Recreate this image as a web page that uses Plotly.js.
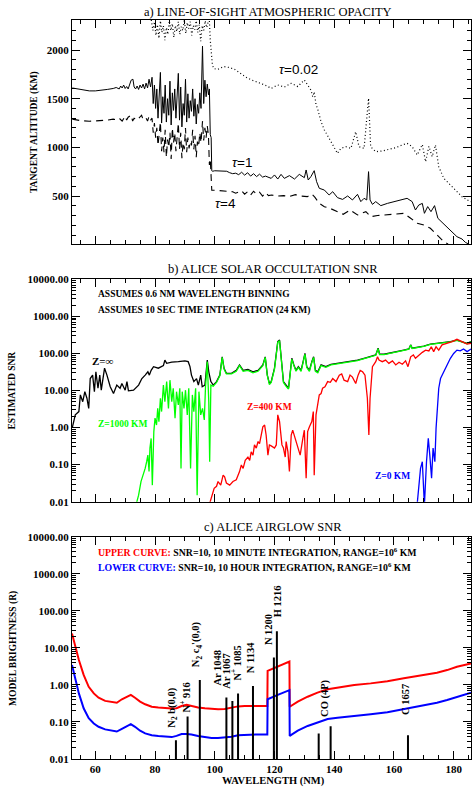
<!DOCTYPE html>
<html><head><meta charset="utf-8">
<script src="https://cdn.plot.ly/plotly-3.0.1.min.js"></script>
<style>html,body{margin:0;padding:0;background:#fff}#chart{width:472px;height:789px}</style>
</head><body><div id="chart"></div>
<script>
// ---------- Panel a: line-of-sight opacity (tangent altitude, km) ----------
const tau1Wl = [52.3,54,56,58,60,62,64,66,67,68,68.5,69,69.5,70,70.5,71,72,72.6,73,73.5,74,74.5,75,75.5,76,76.5,77,77.5,78,78.5,79,79.4,79.8,80.2,80.6,81,81.4,81.8,82.2,82.6,83,83.4,83.8,84.2,84.6,85,85.4,85.8,86.2,86.6,87,87.4,87.8,88.2,88.6,89,89.4,89.8,90.2,90.6,91,91.4,91.8,92.2,92.6,93,93.4,93.8,94.2,94.6,95,95.4,95.9,96.3,96.7,97.1,97.5,97.9,98.2,98.5,98.8,99,99.3,100,102,104,105,106,107,108,109,110,111,112,113,114,115,116,117,118.9,120,121.1,122.2,123.3,125,126.7,128.3,130,130.6,131.3,132.2,133.3,134.1,135,136.7,138.3,139.5,141.1,142.8,144.5,146.1,147.8,148.9,150,150.9,151.5,152,152.8,153.9,155.6,157.8,160,162.2,164.4,166.1,167.2,168.3,169.5,170.2,171.3,172.4,173.6,174.7,176.1,177.8,179.5,181.1,182.8,183.9,185.8];
const tau1Alt = [1610,1600,1585,1580,1580,1585,1595,1605,1615,1600,1630,1610,1640,1605,1625,1600,1690,1700,1620,1600,1630,1595,1640,1610,1650,1600,1660,1610,1700,1620,1720,1450,1640,1400,1600,1300,1560,1770,1250,1520,1350,1640,1260,1500,1330,1680,1230,1560,1380,1600,1300,1500,1760,1280,1620,1210,1450,1330,1700,1260,1550,1300,1480,1370,1600,1320,1500,1240,1440,1350,1560,1400,2040,1450,1690,1520,1650,1540,1600,1130,1100,760,755,760,760,755,740,730,735,720,745,715,740,705,730,700,725,695,705,682,717,675,723,682,710,675,723,689,768,665,700,761,648,580,562,511,545,484,466,501,460,518,443,477,460,751,460,415,443,402,425,443,460,477,443,357,408,425,323,392,340,402,272,230,186,135,83,59,25,-5];
const tau4Wl = [52.3,55,58,61,64,66,67,68,69,70,70.5,71,72,72.5,73,74,75,75.5,76,77,77.5,78,78.5,79,79.4,79.8,80.2,80.6,81,81.4,81.8,82.2,82.6,83,83.4,83.8,84.2,84.6,85,85.4,85.8,86.2,86.6,87,87.4,87.8,88.2,88.6,89,89.4,89.8,90.2,90.6,91,91.4,91.8,92.2,92.6,93,93.4,93.8,94.2,94.6,95,95.4,95.9,96.3,96.7,97.1,97.5,97.9,98.2,98.5,98.8,99,100,103,106,107,109,110,111,112,113,114,115,116,117,118,119,121,123,125,127,129,131,132.5,133.5,135,136.7,138.6,140.8,143,145.3,147.8,150.6,152.2,154.5,157.8,161.1,163.3,165.6,167.8,170,172.2,174.5,176.7,178,178.5];
const tau4Alt = [1290,1275,1268,1272,1280,1290,1285,1300,1270,1320,1280,1310,1330,1270,1300,1280,1310,1330,1285,1300,1270,1320,1280,1300,1150,1250,1100,1200,1020,1150,1260,960,1100,950,1180,900,1080,1000,1150,880,1200,1050,1150,960,1080,1250,980,1150,890,1050,980,1200,950,1100,990,1060,1020,1180,980,1120,900,1060,1010,1150,1050,1270,1070,1200,1100,1220,1120,820,880,620,560,560,550,545,530,555,520,545,510,550,520,540,500,535,505,511,500,505,495,515,500,494,520,490,425,391,374,340,313,357,306,340,289,300,306,315,323,272,220,203,169,100,32,10,-50];
const tau002Wl = [78,78.8,79.3,79.8,80.3,80.8,81.3,81.8,82.3,82.8,83.3,83.8,84.3,84.8,85.3,85.8,86.3,86.8,87.3,87.8,88.3,88.8,89.3,89.8,90.3,90.8,91.3,91.8,92.3,92.8,93.3,93.8,94.3,94.8,95.3,95.8,96.3,96.8,97.3,97.8,98.2,98.5,98.8,99.2,99.6,101,103,105,106.7,108.5,110.5,112.5,114.5,116,117.5,118.9,121.1,123.3,125.6,127.8,130,131.1,132.2,132.8,133.3,133.9,134.4,135.6,136.7,138.3,140,141.1,142.2,143.9,145.6,147.2,148.3,150,151.5,152.2,153.9,156.1,158.3,160.6,162.8,164.4,166.1,167.8,169.5,170.6,171.7,172.8,173.9,175,176.7,178.9,181.1,182.8,184.5,185.8];
const tau002Alt = [2450,2310,2200,2290,2150,2260,2120,2300,2180,2250,2100,2230,2160,2300,2200,2270,2130,2250,2190,2290,2160,2240,2200,2310,2170,2280,2220,2290,2150,2250,2210,2300,2180,2260,2090,2250,2200,2300,2230,2290,2300,2100,1950,1850,1810,1800,1830,1820,1800,1760,1720,1690,1670,1650,1630,1606,1641,1620,1658,1625,1692,1640,1589,1520,1570,1440,1401,1264,1179,1093,1007,938,990,1007,990,1161,1007,990,1504,1007,956,963,980,997,1025,1042,1007,922,1030,853,1010,905,1025,802,682,614,545,494,460,443];
const altTickVals = [500,1000,1500,2000];

// ---------- Panel b: solar occultation SNR ----------
const infWl = [52.3,53.3,54.5,55,55.8,56.5,57.2,57.8,58.3,59.1,59.7,60.2,60.9,61.5,62,63.1,63.9,65,66.1,67.2,68.3,68.9,70,70.6,71.1,72.8,74.5,75.6,76.7,77.6,78.1,78.7,79.5,81.1,82.8,83.3,83.9,85.6,87.8,90,91.1,91.7,92.2,93,93.9,94.5,95.3,95.8,96.7,97.5,98,98.7,99.5,100.6,101.7,102.5,103.1,103.9,105.6,107.2,108.3,109.5,111.1,112.8,114.5,116.1,116.9,117.6,118.3,118.9,120,121.1,121.7,122.2,123,123.9,124.7,125.3,125.8,126.5,127.2,128,128.9,129.7,130.2,130.8,131.7,132.5,133.1,133.7,134.5,135.6,137.2,138.9,141.1,143.3,145.6,147.8,150,152.2,153.9,154.7,155.2,156.7,158.9,161.1,163.3,165,165.6,166.1,167.8,170,172.2,174.5,176.7,178.9,181.1,182.8,184.5,185.8];
const infSnr = [1.0,2.2,2.7,7.6,5.0,9.3,6.2,3.3,21,26,9.3,32,11.5,26,10.2,40,26,12.6,8.3,14,11.5,15.5,10.2,17.4,9.8,10.2,14,21,26,32,26,35,44,40,47,66,54,58,60,63,60,44,26,17.4,21,14,26,12.6,14,66,32,17.4,14,17.4,26,81,40,29,29,35,49,35,37,32,35,49,81,26,15.5,17.4,40,209,229,74,17.4,14,11.5,32,74,49,35,44,35,66,100,44,35,60,81,35,32,49,44,51,54,58,63,66,74,85,91,138,95,95,105,112,123,132,170,138,145,158,178,186,195,209,229,209,186,209];
const z1000Wl = [73.6,74.5,75.3,76.1,76.7,77.2,77.6,78,78.3,78.7,79.1,79.6,80,80.5,80.9,81.3,81.8,82.2,82.8,83.3,83.9,84.5,85,85.6,86.1,86.7,87.2,87.8,88.3,88.7,89.1,89.7,90.2,90.8,91.3,91.9,92.5,93,93.6,94.1,94.7,95.3,95.9,96.5,96.9,97.5,98,98.3,98.7,99.5,100.6,101.7,102.5,103.1,103.9,105.6,107.2,108.3,109.5,111.1,112.8,114.5,116.1,116.9,117.6,118.3,118.9,120,121.1,121.7,122.2,123,123.9,124.7,125.3,125.8,126.5,127.2,128,128.9,129.7,130.2,130.8,131.7,132.5,133.1,133.7,134.5,135.6,137.2,138.9,141.1,143.3,145.6,147.8,150,152.2,153.9,154.7,155.2,156.7,158.9,161.1,163.3,165,165.6,166.1,167.8,170,172.2,174.5,176.7,178.9,181.1,182.8,184.5,185.8];
const z1000Snr = [0.008,0.015,0.035,0.052,0.079,0.12,0.18,0.065,0.28,0.51,0.028,0.78,1.8,1.17,3.3,1.45,6.2,2.7,14,5.0,17.4,3.3,19,5.0,11.5,1.8,9.3,4.1,11.5,0.079,9.3,3.3,10.2,2.2,11.5,0.079,7.6,2.7,11.5,0.015,9.3,2.2,3.3,1.6,12.6,60,5.0,0.12,14,13,16.5,25,78,38,28,28,33,47,33,35,30,33,47,78,25,14.5,16.5,38,200,220,70,16.5,13,11,30,70,47,33,42,33,63,95,42,33,57,78,33,30,47,42,49,52,56,61,64,72,83,89,135,93,93,103,110,121,130,168,136,143,156,176,184,193,206,226,206,184,206];
const z400Wl = [98.3,99.1,99.8,100.6,101.1,102,102.8,103.3,103.9,105,106.1,107.2,108.3,108.9,109.5,110.2,111.1,111.7,112.2,112.8,113.3,113.9,114.5,115,115.6,116.1,116.7,117.2,117.8,118.3,118.9,120,120.6,121.1,121.7,122.5,123,123.6,123.9,124.5,125,125.6,126.1,126.9,127.8,128.6,129.5,130,130.6,131.1,131.7,132.5,133,133.3,133.9,134.5,135,135.6,136.1,136.9,137.8,138.7,139.5,140.6,141.7,142.5,143.3,144.5,145.3,146.1,147.2,148,148.7,149.5,150.3,151.1,151.6,152,152.8,153.9,154.5,155,156.1,157.2,158.3,159.5,160.6,161.7,162.8,163.9,164.7,165.6,166.5,167.2,168.3,169.5,170.6,171.7,172.5,173.3,174.1,175,176.1,177.8,179.5,181.1,182.8,184.5,185.8];
const z400Snr = [0.009,0.015,0.023,0.026,0.035,0.028,0.052,0.047,0.032,0.028,0.035,0.039,0.065,0.098,0.079,0.13,0.16,0.13,0.22,0.18,0.34,0.28,0.42,0.37,0.69,1.05,1.17,0.63,0.18,0.34,0.32,0.28,0.34,2.2,1.45,0.34,0.28,0.16,0.42,0.22,0.065,0.63,0.85,0.51,0.28,0.18,0.51,0.85,0.043,0.78,1.05,1.45,2.7,0.052,2.2,5.0,7.6,8.3,11.5,12.6,17.4,16.6,21,17.4,26,28,19,17.4,26,23,15.5,26,35,32,26,6.2,0.63,6.2,44,60,81,66,60,66,54,63,49,58,51,63,44,81,91,74,91,107,123,117,151,112,151,123,170,186,209,240,209,178,186];
const z0Wl = [167.8,168.3,168.9,169.5,169.8,170.2,170.9,171.5,172,172.6,173.1,173.7,174.1,174.5,175,175.6,176.7,177.8,178.9,180,181.1,182.2,183.3,184.5,185.8];
const z0Snr = [0.009,0.023,0.079,0.12,0.052,0.008,0.12,0.51,0.18,0.043,0.28,0.12,0.95,3.3,11.5,21,32,49,74,100,123,117,132,112,132];

// ---------- Panel c: airglow model brightness (R) ----------
const upperWl = [52.2,53.3,54.5,56.1,57.8,59.5,61.1,63.3,65.6,67.2,68.9,70.6,71.9,73.3,75,76.7,78.9,81.1,83.3,85.6,87.2,88.9,90.6,92.2,94.4,96.7,98.9,101.1,103.3,105.6,107.8,110,112.2,114.4,117.6,117.7,121.1,125,125.1,127.8,131.1,134.4,137.8,141.1,146.7,152.2,157.8,163.3,167.8,172.2,174.4,177.8,181.1,185.8];
const upperR = [24.5,10.7,4.7,1.86,0.89,0.59,0.45,0.37,0.35,0.33,0.41,0.48,0.54,0.45,0.355,0.30,0.257,0.245,0.234,0.229,0.234,0.27,0.29,0.27,0.245,0.234,0.224,0.219,0.224,0.245,0.263,0.27,0.27,0.27,0.27,2.4,3.1,4.27,0.257,0.355,0.48,0.62,0.76,0.85,1.0,1.1,1.26,1.51,1.74,1.95,2.14,2.51,3.1,3.8];
const lowerWl = [52.2,53.3,54.5,56.1,57.8,59.5,61.1,63.3,65.6,67.2,68.9,70.6,71.9,73.3,75,76.7,78.9,81.1,83.3,85.6,87.2,88.9,90.6,92.2,94.4,96.7,98.9,101.1,103.3,105.6,107.8,110,112.2,114.4,117.6,117.7,121.1,125,125.1,127.8,131.1,134.4,137.8,141.1,146.7,152.2,157.8,163.3,167.8,172.2,174.4,177.8,181.1,185.8];
const lowerR = [3.47,1.35,0.59,0.234,0.126,0.091,0.074,0.063,0.058,0.055,0.065,0.078,0.087,0.074,0.058,0.049,0.044,0.042,0.040,0.039,0.042,0.047,0.047,0.046,0.042,0.039,0.037,0.037,0.038,0.040,0.044,0.045,0.046,0.046,0.046,0.41,0.54,0.72,0.042,0.058,0.078,0.098,0.12,0.13,0.148,0.162,0.182,0.219,0.257,0.30,0.33,0.39,0.48,0.62];
const lineWl = [87.0,90.9,95.0,103.9,105.9,107.8,112.8,119.8,120.8,134.8,138.8,164.7];
const lineR = [0.032,0.14,1.35,0.46,0.37,0.59,0.93,5.5,28,0.049,0.077,0.044];
const lineLabels = ["N<sub>2</sub> b(0,0)","N<sup>+</sup> 916","N<sub>2</sub> c<sub>4</sub>'(0,0)","Ar 1048","Ar 1067","N<sup>+</sup> 1085","N 1134","N 1200","H 1216","CO (4P)","C 1657"];
const labelWl = [86.0,90.0,94.0,101.0,104.1,106.9,111.8,118.0,120.8,137.1,163.8];
const labelLogR = [-1.21,-0.80,0.42,-0.08,-0.16,0.06,0.25,1.02,1.77,-0.93,-0.87];

const logTickVals = [0.01,0.1,1,10,100,1000,10000];
const logTickText = ["0.01","0.10","1.00","10.00","100.00","1000.00","10000.00"];
const wlTickVals = [60,80,100,120,140,160,180];

// ---------- build ----------
const serif = 'Liberation Serif';
const tickFont = {family: serif, size: 11, color: '#000', weight: 'bold'};
function xAx(extra) {
  return Object.assign({
    range: [52.2, 185.8], showline: true, linecolor: '#000', linewidth: 1, mirror: 'allticks',
    ticks: 'inside', ticklen: 8, tickwidth: 1, tickcolor: '#000', tickmode: 'array', tickvals: wlTickVals,
    minor: {ticks: 'inside', ticklen: 4, tickcolor: '#000', dtick: 5, tick0: 0, showgrid: false},
    showgrid: false, zeroline: false, tickfont: tickFont, fixedrange: true
  }, extra);
}
function logAx(domain) {
  return {
    type: 'log', range: [-2, 4], domain: domain, showline: true, linecolor: '#000', linewidth: 1, mirror: 'allticks',
    ticks: 'inside', ticklen: 8, tickwidth: 1, tickcolor: '#000', tickmode: 'array',
    tickvals: logTickVals, ticktext: logTickText,
    minor: {ticks: 'inside', ticklen: 4, tickcolor: '#000', dtick: 'D1', showgrid: false},
    showgrid: false, zeroline: false, tickfont: tickFont, fixedrange: true
  };
}

const spikeX = [], spikeY = [];
lineWl.forEach((w, i) => { spikeX.push(w, w, null); spikeY.push(0.001, lineR[i], null); });

const traces = [
  {x: tau002Wl, y: tau002Alt, xaxis: 'x3', yaxis: 'y3', mode: 'lines', line: {color: '#000', width: 1.2, dash: '1px,2.5px'}},
  {x: tau4Wl, y: tau4Alt, xaxis: 'x3', yaxis: 'y3', mode: 'lines', line: {color: '#000', width: 1.1, dash: '7px,5px'}},
  {x: tau1Wl, y: tau1Alt, xaxis: 'x3', yaxis: 'y3', mode: 'lines', line: {color: '#000', width: 1}},
  {x: infWl, y: infSnr, xaxis: 'x2', yaxis: 'y2', mode: 'lines', line: {color: '#000', width: 1.3}},
  {x: z1000Wl, y: z1000Snr, xaxis: 'x2', yaxis: 'y2', mode: 'lines', line: {color: '#00ff00', width: 1.3}},
  {x: z400Wl, y: z400Snr, xaxis: 'x2', yaxis: 'y2', mode: 'lines', line: {color: '#ff0000', width: 1.3}},
  {x: z0Wl, y: z0Snr, xaxis: 'x2', yaxis: 'y2', mode: 'lines', line: {color: '#0000ff', width: 1.3}},
  {x: upperWl, y: upperR, xaxis: 'x', yaxis: 'y', mode: 'lines', line: {color: '#ff0000', width: 2}},
  {x: lowerWl, y: lowerR, xaxis: 'x', yaxis: 'y', mode: 'lines', line: {color: '#0000ff', width: 2}},
  {x: spikeX, y: spikeY, xaxis: 'x', yaxis: 'y', mode: 'lines', line: {color: '#000', width: 2}, connectgaps: false}
];

const annFont = {family: serif, size: 9.5, color: '#000', weight: 'bold'};
const ann = [];
function A(o) { ann.push(Object.assign({showarrow: false, font: annFont}, o)); }
const titleFont = {family: serif, size: 12.5, color: '#000'};
A({text: 'a) LINE-OF-SIGHT ATMOSPHERIC OPACITY', xref: 'paper', yref: 'paper', x: 0.4912, y: 0.98479, xanchor: 'center', yanchor: 'middle', font: titleFont});
A({text: 'b) ALICE SOLAR OCCULTATION SNR', xref: 'paper', yref: 'paper', x: 0.5038, y: 0.65906, xanchor: 'center', yanchor: 'middle', font: titleFont});
A({text: 'c) ALICE AIRGLOW SNR', xref: 'paper', yref: 'paper', x: 0.505, y: 0.33207, xanchor: 'center', yanchor: 'middle', font: titleFont});
A({text: 'TANGENT ALTITUDE (KM)', xref: 'paper', yref: 'paper', x: -0.0927, y: 0.8327, textangle: -90, xanchor: 'center', yanchor: 'middle'});
A({text: 'ESTIMATED SNR', xref: 'paper', yref: 'paper', x: -0.1504, y: 0.5051, textangle: -90, xanchor: 'center', yanchor: 'middle'});
A({text: 'MODEL BRIGHTNESS (R)', xref: 'paper', yref: 'paper', x: -0.1454, y: 0.1788, textangle: -90, xanchor: 'center', yanchor: 'middle'});
A({text: 'WAVELENGTH (NM)', xref: 'paper', yref: 'paper', x: 0.5038, y: 0.01014, xanchor: 'center', yanchor: 'middle', font: Object.assign({}, annFont, {size: 10.5})});
const tauFont = {family: 'Liberation Sans', size: 13.5, color: '#000'};
A({text: '<i>τ</i>=0.02', xref: 'x3', yref: 'y3', x: 127.96, y: 1795, xanchor: 'center', yanchor: 'middle', font: tauFont});
A({text: '<i>τ</i>=1', xref: 'x3', yref: 'y3', x: 109.2, y: 840, xanchor: 'center', yanchor: 'middle', font: tauFont});
A({text: '<i>τ</i>=4', xref: 'x3', yref: 'y3', x: 103.5, y: 429, xanchor: 'center', yanchor: 'middle', font: tauFont});
A({text: 'ASSUMES 0.6 NM WAVELENGTH BINNING', xref: 'x2', yref: 'y2', x: 60.2, y: 3.60, xanchor: 'left', yanchor: 'middle'});
A({text: 'ASSUMES 10 SEC TIME INTEGRATION (24 KM)', xref: 'x2', yref: 'y2', x: 60.2, y: 3.17, xanchor: 'left', yanchor: 'middle'});
A({text: 'Z=∞', xref: 'x2', yref: 'y2', x: 58.2, y: 1.80, xanchor: 'left', yanchor: 'middle', font: Object.assign({}, annFont, {size: 11})});
A({text: 'Z=1000 KM', xref: 'x2', yref: 'y2', x: 60.2, y: 0.10, xanchor: 'left', yanchor: 'middle', font: Object.assign({}, annFont, {color: '#00ff00'})});
A({text: 'Z=400 KM', xref: 'x2', yref: 'y2', x: 110.0, y: 0.56, xanchor: 'left', yanchor: 'middle', font: Object.assign({}, annFont, {color: '#ff0000'})});
A({text: 'Z=0 KM', xref: 'x2', yref: 'y2', x: 152.9, y: -1.31, xanchor: 'left', yanchor: 'middle', font: Object.assign({}, annFont, {color: '#0000ff'})});
const legFont = Object.assign({}, annFont, {size: 9.8});
A({text: '<span style="color:#ff0000">UPPER CURVE:</span> SNR=10, 10 MINUTE INTEGRATION, RANGE=10<sup>6</sup> KM', xref: 'x', yref: 'y', x: 60.2, y: 3.58, xanchor: 'left', yanchor: 'middle', font: legFont});
A({text: '<span style="color:#0000ff">LOWER CURVE:</span> SNR=10, 10 HOUR INTEGRATION, RANGE=10<sup>6</sup> KM', xref: 'x', yref: 'y', x: 60.2, y: 3.18, xanchor: 'left', yanchor: 'middle', font: legFont});
lineLabels.forEach((t, i) => A({text: t, xref: 'x', yref: 'y', x: labelWl[i], y: labelLogR[i], textangle: -90, xanchor: 'center', yanchor: 'bottom', font: Object.assign({}, annFont, {size: 10.5})}));

const layout = {
  width: 472, height: 789, margin: {l: 72, r: 1, t: 0, b: 0},
  paper_bgcolor: '#fff', plot_bgcolor: '#fff', showlegend: false,
  font: {family: serif, color: '#000'},
  xaxis: xAx({anchor: 'y', showticklabels: true}),
  xaxis2: xAx({anchor: 'y2', matches: 'x', showticklabels: false}),
  xaxis3: xAx({anchor: 'y3', matches: 'x', showticklabels: false}),
  yaxis: logAx([0.03802, 0.31977]),
  yaxis2: logAx([0.36413, 0.64601]),
  yaxis3: {
    range: [8, 2308], domain: [0.69075, 0.97465], showline: true, linecolor: '#000', linewidth: 1, mirror: 'allticks',
    ticks: 'inside', ticklen: 8, tickwidth: 1, tickcolor: '#000', tickmode: 'array', tickvals: altTickVals,
    minor: {ticks: 'inside', ticklen: 4, tickcolor: '#000', dtick: 100, tick0: 0, showgrid: false},
    showgrid: false, zeroline: false, tickfont: tickFont, fixedrange: true
  },
  annotations: ann
};
Plotly.newPlot('chart', traces, layout, {staticPlot: true, displayModeBar: false});
</script></body></html>
